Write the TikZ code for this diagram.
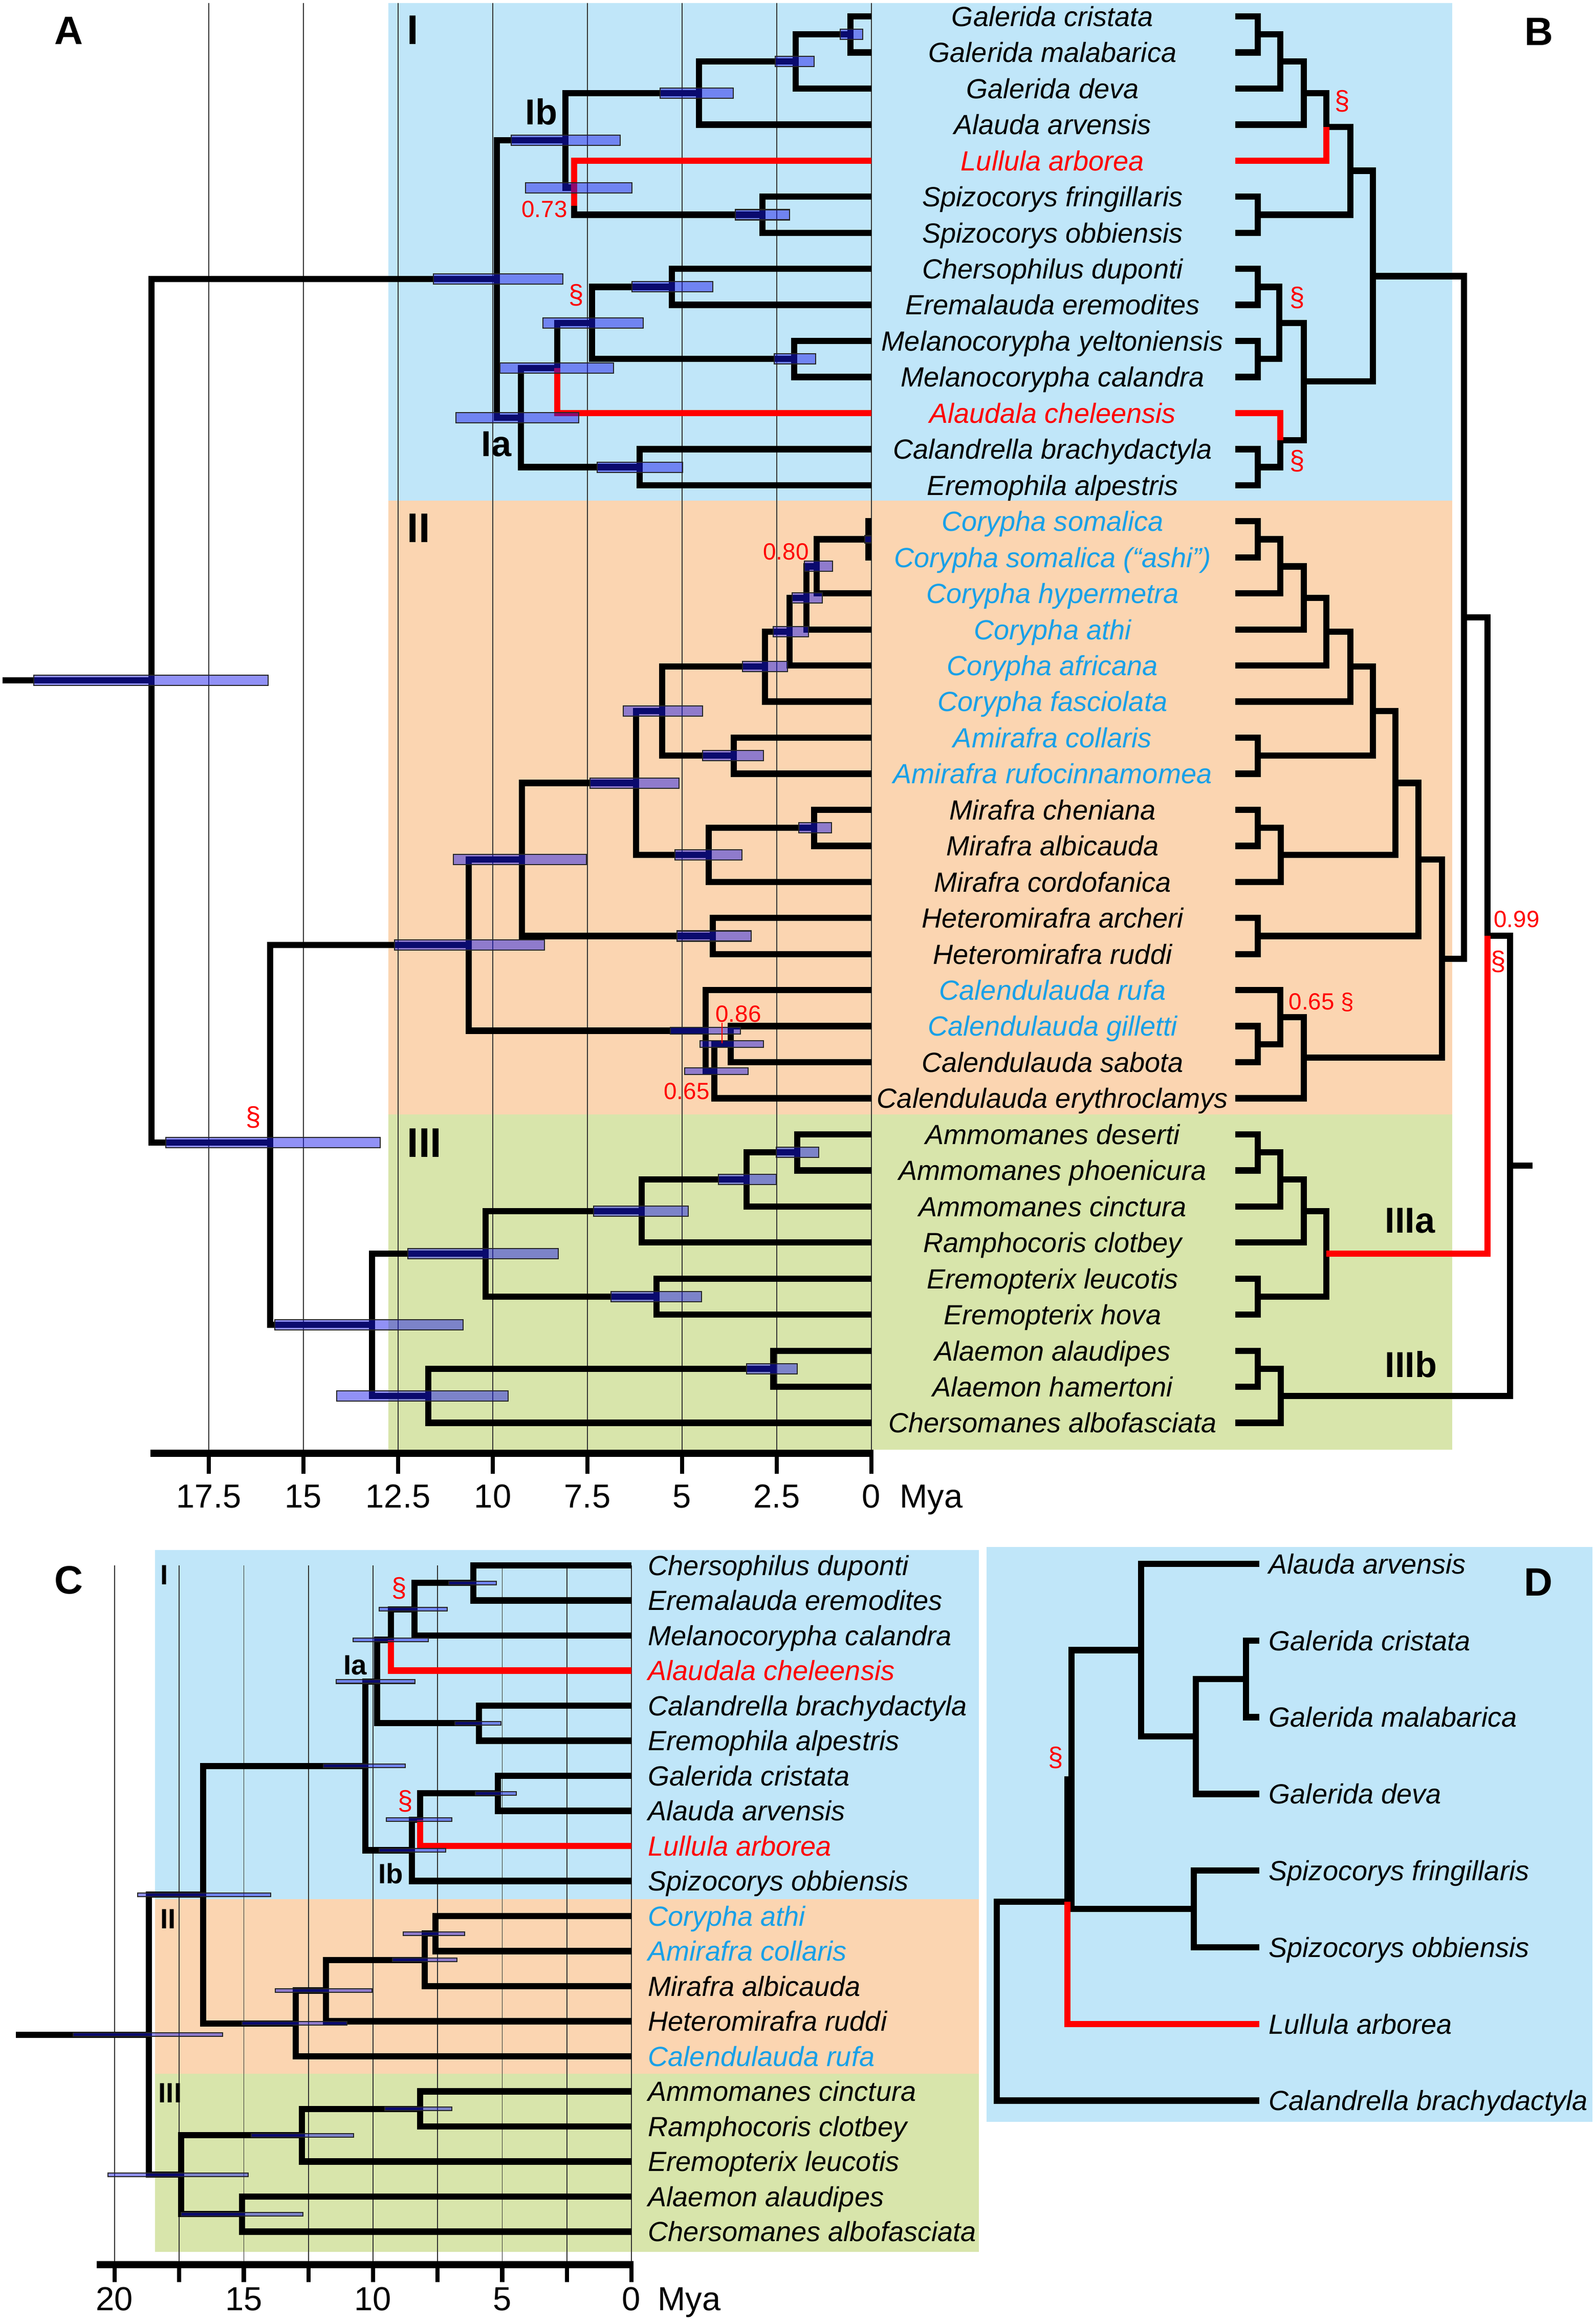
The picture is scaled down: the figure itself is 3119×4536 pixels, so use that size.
\documentclass[tikz,border=0pt]{standalone}
\usepackage{fontspec}
\setmainfont{Liberation Sans}
\usetikzlibrary{calc}
\pgfdeclarelayer{bg}
\pgfsetlayers{bg,main}

\definecolor{bandblue}{RGB}{192,230,249}
\definecolor{bandorange}{RGB}{251,213,177}
\definecolor{bandgreen}{RGB}{216,229,171}
\definecolor{taxblue}{RGB}{24,160,232}
\definecolor{treered}{RGB}{255,0,0}
\definecolor{hpdblue}{RGB}{22,22,235}

% internal node: given x, y halfway between its two children
\newcommand{\nd}[4]{\path let \p1=(#3), \p2=(#4) in (#2*0.01cm,{0.5*(\y1+\y2)}) coordinate (#1);}
% age interval bar centred on a node
\newcommand{\hpd}[4][20]{\path[hpdbar] let \p1=(#2) in (#3*0.01cm,{\y1+#1*0.005cm}) rectangle (#4*0.01cm,{\y1-#1*0.005cm});}

\tikzset{
  br/.style={line width=3.5pt},
  brred/.style={line width=3.5pt, draw=treered},
  hpdbar/.style={fill=hpdblue, fill opacity=0.47, draw=black!85, line width=0.6pt},
  gridline/.style={line width=0.55pt, draw=black!80},
  axisbar/.style={line width=4pt},
  axistick/.style={line width=2.4pt},
  taxon/.style={font=\fontsize{15.4pt}{18pt}\selectfont\itshape, inner sep=0pt, text height=11pt, text depth=0pt},
  cladelab/.style={font=\fontsize{23pt}{27pt}\selectfont\bfseries, inner sep=0pt, anchor=west},
  sublab/.style={font=\fontsize{20pt}{24pt}\selectfont\bfseries, inner sep=0pt},
  smalllab/.style={font=\fontsize{15.5pt}{18pt}\selectfont\bfseries, inner sep=0pt},
  panel/.style={font=\fontsize{22pt}{26pt}\selectfont\bfseries, inner sep=0pt},
  pp/.style={font=\fontsize{13pt}{16pt}\selectfont, text=treered, inner sep=0pt},
  sect/.style={font=\fontsize{15pt}{18pt}\selectfont, text=treered, inner sep=0pt},
  ticklab/.style={font=\fontsize{18.5pt}{22pt}\selectfont, inner sep=0pt, text height=13.2pt, text depth=0pt}
}

\begin{document}
\begin{tikzpicture}[x=0.01cm, y=-0.01cm]
    \useasboundingbox (0,0) rectangle (3119,4536);

    \begin{pgfonlayer}{bg}
        % clade bands
        \fill[bandblue] (759,6) rectangle (2838,978);
        \fill[bandorange] (759,978) rectangle (2838,2177);
        \fill[bandgreen] (759,2177) rectangle (2838,2832);
        \fill[bandblue] (303,3028) rectangle (1913,3710);
        \fill[bandorange] (303,3710) rectangle (1913,4051);
        \fill[bandgreen] (303,4051) rectangle (1913,4399);
        \fill[bandblue] (1928,3022) rectangle (3112,4145);
        % time grid
        \foreach \t in {0,2.5,...,17.5}
            \draw[gridline] ({1703-74*\t},6) -- ({1703-74*\t},2839);
        \foreach \t in {0,2.5,...,20}
            \draw[gridline] ({1234-50.5*\t},3058) -- ({1234-50.5*\t},4424);
    \end{pgfonlayer}

    % taxa of A and B
    \foreach \tx/\col [count=\i] in {Galerida cristata/black, Galerida malabarica/black, Galerida deva/black,
        Alauda arvensis/black, Lullula arborea/treered, Spizocorys fringillaris/black, Spizocorys obbiensis/black,
        Chersophilus duponti/black, Eremalauda eremodites/black, Melanocorypha yeltoniensis/black,
        Melanocorypha calandra/black, Alaudala cheleensis/treered, Calandrella brachydactyla/black,
        Eremophila alpestris/black, Corypha somalica/taxblue, Corypha somalica (“ashi”)/taxblue,
        Corypha hypermetra/taxblue, Corypha athi/taxblue, Corypha africana/taxblue, Corypha fasciolata/taxblue,
        Amirafra collaris/taxblue, Amirafra rufocinnamomea/taxblue, Mirafra cheniana/black, Mirafra albicauda/black,
        Mirafra cordofanica/black, Heteromirafra archeri/black, Heteromirafra ruddi/black, Calendulauda rufa/taxblue,
        Calendulauda gilletti/taxblue, Calendulauda sabota/black, Calendulauda erythroclamys/black,
        Ammomanes deserti/black, Ammomanes phoenicura/black, Ammomanes cinctura/black, Ramphocoris clotbey/black,
        Eremopterix leucotis/black, Eremopterix hova/black, Alaemon alaudipes/black, Alaemon hamertoni/black,
        Chersomanes albofasciata/black}
    {
        \coordinate (ta\i) at (1703,{32+(\i-1)*70.45});
        \coordinate (tb\i) at (2414,{32+(\i-1)*70.45});
        \node[taxon, text=\col] (lab\i) at (2057,{32+(\i-1)*70.45}) {\tx};
    }
    % taxa of C
    \foreach \tx/\col [count=\i] in {Chersophilus duponti/black, Eremalauda eremodites/black,
        Melanocorypha calandra/black, Alaudala cheleensis/treered, Calandrella brachydactyla/black,
        Eremophila alpestris/black, Galerida cristata/black, Alauda arvensis/black, Lullula arborea/treered,
        Spizocorys obbiensis/black, Corypha athi/taxblue, Amirafra collaris/taxblue, Mirafra albicauda/black,
        Heteromirafra ruddi/black, Calendulauda rufa/taxblue, Ammomanes cinctura/black, Ramphocoris clotbey/black,
        Eremopterix leucotis/black, Alaemon alaudipes/black, Chersomanes albofasciata/black}
    {
        \coordinate (tc\i) at (1234,{3058+(\i-1)*68.5});
        \node[taxon, text=\col, anchor=west] (labc\i) at (1266,{3058+(\i-1)*68.5}) {\tx};
    }
    % taxa of D
    \foreach \tx/\col [count=\i] in {Alauda arvensis/black, Galerida cristata/black, Galerida malabarica/black,
        Galerida deva/black, Spizocorys fringillaris/black, Spizocorys obbiensis/black, Lullula arborea/black,
        Calandrella brachydactyla/black}
    {
        \coordinate (td\i) at (2461,{3055+(\i-1)*149.8});
        \node[taxon, text=\col, anchor=west] (labd\i) at (2479,{3055+(\i-1)*149.8}) {\tx};
    }

    % A: dated tree
    \nd{A1}{1662}{ta1}{ta2}      \nd{A2}{1555}{A1}{ta3}     \nd{A3}{1366}{A2}{ta4}
    \nd{A4}{1490}{ta6}{ta7}      \nd{A5}{1122}{ta5}{A4}     \nd{A6}{1105}{A3}{A5}
    \nd{A7}{1313}{ta8}{ta9}      \nd{A8}{1552}{ta10}{ta11}  \nd{A9}{1157}{A7}{A8}
    \nd{A10}{1089}{A9}{ta12}     \nd{A11}{1250}{ta13}{ta14} \nd{A12}{1018}{A10}{A11}
    \nd{A13}{971}{A6}{A12}
    \nd{A14}{1697}{ta15}{ta16}   \nd{A15}{1596}{A14}{ta17}  \nd{A16}{1576}{A15}{ta18}
    \nd{A17}{1543}{A16}{ta19}    \nd{A18}{1495}{A17}{ta20}  \nd{A19}{1434}{ta21}{ta22}
    \nd{A20}{1294}{A18}{A19}     \nd{A21}{1591}{ta23}{ta24} \nd{A22}{1385}{A21}{ta25}
    \nd{A23}{1243}{A20}{A22}     \nd{A24}{1393}{ta26}{ta27} \nd{A25}{1020}{A23}{A24}
    \nd{A26}{1428}{ta29}{ta30}   \nd{A27}{1396}{A26}{ta31}  \nd{A28}{1379}{ta28}{A27}
    \nd{A29}{916}{A25}{A28}
    \nd{A30}{1558}{ta32}{ta33}   \nd{A31}{1459}{A30}{ta34}  \nd{A32}{1254}{A31}{ta35}
    \nd{A33}{1283}{ta36}{ta37}   \nd{A34}{949}{A32}{A33}    \nd{A35}{1511}{ta38}{ta39}
    \nd{A36}{837}{A35}{ta40}     \nd{A37}{727}{A34}{A36}
    \coordinate (A38) at (528,2232);
    \coordinate (A39) at (296,1329);
    \coordinate (Aroot) at (5,1329);

    \foreach \p/\c in {A1/ta1, A1/ta2, A2/A1, A2/ta3, A3/A2, A3/ta4, A4/ta6, A4/ta7, A5/A4, A6/A3, A6/A5,
        A7/ta8, A7/ta9, A8/ta10, A8/ta11, A9/A7, A9/A8, A10/A9, A11/ta13, A11/ta14, A12/A10, A12/A11,
        A13/A6, A13/A12, A14/ta15, A14/ta16, A15/A14, A15/ta17, A16/A15, A16/ta18, A17/A16, A17/ta19,
        A18/A17, A18/ta20, A19/ta21, A19/ta22, A20/A18, A20/A19, A21/ta23, A21/ta24, A22/A21, A22/ta25,
        A23/A20, A23/A22, A24/ta26, A24/ta27, A25/A23, A25/A24, A26/ta29, A26/ta30, A27/A26, A27/ta31,
        A28/ta28, A28/A27, A29/A25, A29/A28, A30/ta32, A30/ta33, A31/A30, A31/ta34, A32/A31, A32/ta35,
        A33/ta36, A33/ta37, A34/A32, A34/A33, A35/ta38, A35/ta39, A36/A35, A36/ta40, A37/A34, A37/A36,
        A38/A29, A38/A37, A39/A13, A39/A38}
        \draw[br] (\p) |- (\c);
    \draw[br] (Aroot) -- (A39);
    \draw[brred] ([yshift=-0.35cm]A5) |- (ta5);
    \draw[brred] (A10) |- (ta12);

    \foreach \bn/\xa/\xb in {A1/1642/1686, A2/1515/1591, A3/1290/1433, A4/1437/1543, A5/1027/1235,
        A6/999/1212, A7/1235/1393, A8/1513/1594, A9/1061/1257, A10/977/1199, A11/1167/1334,
        A12/891/1131, A13/847/1100, A15/1572/1627, A16/1548/1607, A17/1511/1580, A18/1451/1539,
        A19/1373/1492, A20/1218/1373, A21/1561/1625, A22/1319/1450, A23/1153/1327, A24/1323/1468,
        A25/886/1146, A29/771/1064, A30/1517/1600, A31/1404/1517, A32/1160/1345, A33/1194/1371,
        A34/797/1091, A35/1459/1558, A36/658/993, A37/537/905, A38/324/743, A39/66/524}
        \hpd{\bn}{\xa}{\xb};
    \hpd[14]{A14}{1690}{1703}
    \hpd[13]{A26}{1368}{1492}
    \hpd[13]{A27}{1338}{1462}
    \hpd[13]{A28}{1310}{1447}

    \node[panel] (pA) at (134,60) {A};
    \node[cladelab] (cI) at (795,59) {I};
    \node[cladelab] (cII) at (795,1032) {II};
    \node[cladelab] (cIII) at (795,2233) {III};
    \node[sublab] (cIb) at (1058,218) {Ib};
    \node[sublab] (cIa) at (970,868) {Ia};
    \node[pp] (pA5) at (1064,409) {0.73};
    \node[pp] (pA15) at (1536,1078) {0.80};
    \node[pp] (pA26) at (1443,1981) {0.86};
    \node[pp] (pA27) at (1342,2132) {0.65};
    \coordinate (tick86) at (1411,2038);
    \draw[treered, line width=0.7pt] (pA26.south -| tick86) -- (tick86);
    \node[sect] (sA9) at (1126,577) {§};
    \node[sect] (sA38) at (495,2183) {§};

    % time axis of A
    \draw[axisbar] (294,2839) -- (1707,2839);
    \foreach \t in {0,2.5,...,17.5}
        \draw[axistick] ({1703-74*\t},2839) -- ({1703-74*\t},2879);
    \foreach \t [count=\k] in {0,2.5,5,7.5,10,12.5,15,17.5}
        \node[ticklab] (kA\k) at ({1703-74*\t},2922) {\t};
    \node[ticklab, anchor=west] (myaA) at (1758,2922) {Mya};

    % B: topology
    \nd{B1}{2458}{tb1}{tb2}      \nd{B2}{2502}{B1}{tb3}     \nd{B3}{2548}{B2}{tb4}
    \nd{B4}{2592}{B3}{tb5}       \nd{B5}{2458}{tb6}{tb7}    \nd{B6}{2639}{B4}{B5}
    \nd{B7}{2458}{tb8}{tb9}      \nd{B8}{2458}{tb10}{tb11}  \nd{B9}{2500}{B7}{B8}
    \nd{B10}{2458}{tb13}{tb14}   \nd{B11}{2502}{tb12}{B10}  \nd{B12}{2548}{B9}{B11}
    \nd{B13}{2683}{B6}{B12}
    \nd{B14}{2458}{tb15}{tb16}   \nd{B15}{2502}{B14}{tb17}  \nd{B16}{2548}{B15}{tb18}
    \nd{B17}{2592}{B16}{tb19}    \nd{B18}{2639}{B17}{tb20}  \nd{B19}{2458}{tb21}{tb22}
    \nd{B20}{2683}{B18}{B19}     \nd{B21}{2458}{tb23}{tb24} \nd{B22}{2503}{B21}{tb25}
    \nd{B23}{2727}{B20}{B22}     \nd{B24}{2458}{tb26}{tb27} \nd{B25}{2772}{B23}{B24}
    \nd{B26}{2458}{tb29}{tb30}   \nd{B27}{2502}{tb28}{B26}  \nd{B28}{2548}{B27}{tb31}
    \nd{B29}{2818}{B25}{B28}     \nd{B30}{2861}{B13}{B29}
    \nd{B31}{2458}{tb32}{tb33}   \nd{B32}{2502}{B31}{tb34}  \nd{B33}{2548}{B32}{tb35}
    \nd{B34}{2458}{tb36}{tb37}   \nd{B35}{2592}{B33}{B34}   \nd{B36}{2458}{tb38}{tb39}
    \nd{B37}{2503}{B36}{tb40}    \nd{B38}{2907}{B30}{B35}   \nd{B39}{2951}{B38}{B37}
    \coordinate (Broot) at ([xshift=0.44cm]B39);

    \foreach \p/\c in {B1/tb1, B1/tb2, B2/B1, B2/tb3, B3/B2, B3/tb4, B4/B3, B5/tb6, B5/tb7, B6/B4, B6/B5,
        B7/tb8, B7/tb9, B8/tb10, B8/tb11, B9/B7, B9/B8, B10/tb13, B10/tb14, B11/B10, B12/B9, B12/B11,
        B13/B6, B13/B12, B14/tb15, B14/tb16, B15/B14, B15/tb17, B16/B15, B16/tb18, B17/B16, B17/tb19,
        B18/B17, B18/tb20, B19/tb21, B19/tb22, B20/B18, B20/B19, B21/tb23, B21/tb24, B22/B21, B22/tb25,
        B23/B20, B23/B22, B24/tb26, B24/tb27, B25/B23, B25/B24, B26/tb29, B26/tb30, B27/tb28, B27/B26,
        B28/B27, B28/tb31, B29/B25, B29/B28, B30/B13, B30/B29, B31/tb32, B31/tb33, B32/B31, B32/tb34,
        B33/B32, B33/tb35, B34/tb36, B34/tb37, B35/B33, B35/B34, B36/tb38, B36/tb39, B37/B36, B37/tb40,
        B38/B30, B39/B38, B39/B37}
        \draw[br] (\p) |- (\c);
    \draw[br] (B39) -- (Broot);
    \draw[brred] (B4) |- (tb5);
    \draw[brred] (B11) |- (tb12);
    \draw[brred] (B38) |- (B35);

    \node[panel] (pB) at (3007,62) {B};
    \node[sect] (sB4) at (2623,198) {§};
    \node[sect] (sB9) at (2535,582) {§};
    \node[sect] (sB11) at (2535,901) {§};
    \node[pp, anchor=west] (pB27) at (2518,1958) {0.65 §};
    \node[pp] (pB38) at (2964,1796) {0.99};
    \node[sect] (sB38) at (2928,1879) {§};
    \node[sublab, anchor=west] (cIIIa) at (2706,2385) {IIIa};
    \node[sublab, anchor=west] (cIIIb) at (2706,2665) {IIIb};

    % C: dated tree, fewer taxa
    \nd{C1}{925}{tc1}{tc2}       \nd{C2}{810}{C1}{tc3}      \nd{C3}{764}{C2}{tc4}
    \nd{C4}{936}{tc5}{tc6}       \nd{C5}{737}{C3}{C4}       \nd{C6}{973}{tc7}{tc8}
    \nd{C7}{821}{C6}{tc9}        \nd{C8}{805}{C7}{tc10}     \nd{C9}{714}{C5}{C8}
    \nd{C10}{851}{tc11}{tc12}    \nd{C11}{830}{C10}{tc13}   \nd{C12}{637}{C11}{tc14}
    \nd{C13}{578}{C12}{tc15}     \nd{C14}{397}{C9}{C13}
    \nd{C15}{821}{tc16}{tc17}    \nd{C16}{590}{C15}{tc18}   \nd{C17}{473}{tc19}{tc20}
    \nd{C18}{354}{C16}{C17}      \nd{C19}{291}{C14}{C18}
    \path let \p1=(C19) in (31*0.01cm,\y1) coordinate (Croot);

    \foreach \p/\c in {C1/tc1, C1/tc2, C2/C1, C2/tc3, C3/C2, C4/tc5, C4/tc6, C5/C3, C5/C4, C6/tc7, C6/tc8,
        C7/C6, C8/C7, C8/tc10, C9/C5, C9/C8, C10/tc11, C10/tc12, C11/C10, C11/tc13, C12/C11, C12/tc14,
        C13/C12, C13/tc15, C14/C9, C14/C13, C15/tc16, C15/tc17, C16/C15, C16/tc18, C17/tc19, C17/tc20,
        C18/C16, C18/C17, C19/C14, C19/C18}
        \draw[br] (\p) |- (\c);
    \draw[br] (Croot) -- (C19);
    \draw[brred] (C3) |- (tc4);
    \draw[brred] (C7) |- (tc9);

    \foreach \bn/\xa/\xb in {C1/877/970, C2/741/874, C3/690/837, C4/889/979, C5/657/811, C6/929/1009,
        C7/755/883, C8/741/871, C9/632/792, C10/788/908, C11/767/893, C12/538/727, C13/473/678,
        C14/269/529, C15/752/883, C16/491/691, C17/354/592, C18/211/485, C19/143/435}
        \hpd[7]{\bn}{\xa}{\xb};

    \node[panel] (pC) at (134,3087) {C};
    \node[smalllab, anchor=west] (dI) at (313,3077) {I};
    \node[smalllab, anchor=west] (dII) at (313,3749) {II};
    \node[smalllab, anchor=west] (dIII) at (309,4089) {III};
    \node[smalllab] (dIa) at (694,3253) {Ia};
    \node[smalllab] (dIb) at (764,3660) {Ib};
    \node[sect] (sC2) at (780,3103) {§};
    \node[sect] (sC7) at (792,3519) {§};

    % time axis of C
    \draw[axisbar] (189,4424) -- (1238,4424);
    \foreach \t in {0,2.5,...,20}
        \draw[axistick] ({1234-50.5*\t},4424) -- ({1234-50.5*\t},4458);
    \foreach \t [count=\k] in {0,5,10,15,20}
        \node[ticklab] (kC\k) at ({1234-50.5*\t},4490) {\t};
    \node[ticklab, anchor=west] (myaC) at (1285,4490) {Mya};

    % D: topology of clade Ib
    \nd{D1}{2435}{td2}{td3}      \nd{D2}{2337}{D1}{td4}     \nd{D3}{2230}{td1}{D2}
    \nd{D4}{2333}{td5}{td6}      \nd{D5}{2094}{D3}{D4}      \nd{D6}{2086}{D5}{td7}
    \nd{D7}{1948}{D6}{td8}
    \foreach \p/\c in {D1/td2, D1/td3, D2/D1, D2/td4, D3/td1, D3/D2, D4/td5, D4/td6, D5/D3, D5/D4,
        D6/D5, D7/D6, D7/td8}
        \draw[br] (\p) |- (\c);
    \draw[brred] (D6) |- (td7);

    \node[panel] (pD) at (3006,3091) {D};
    \node[sect] (sD6) at (2063,3434) {§};
\end{tikzpicture}
\end{document}
